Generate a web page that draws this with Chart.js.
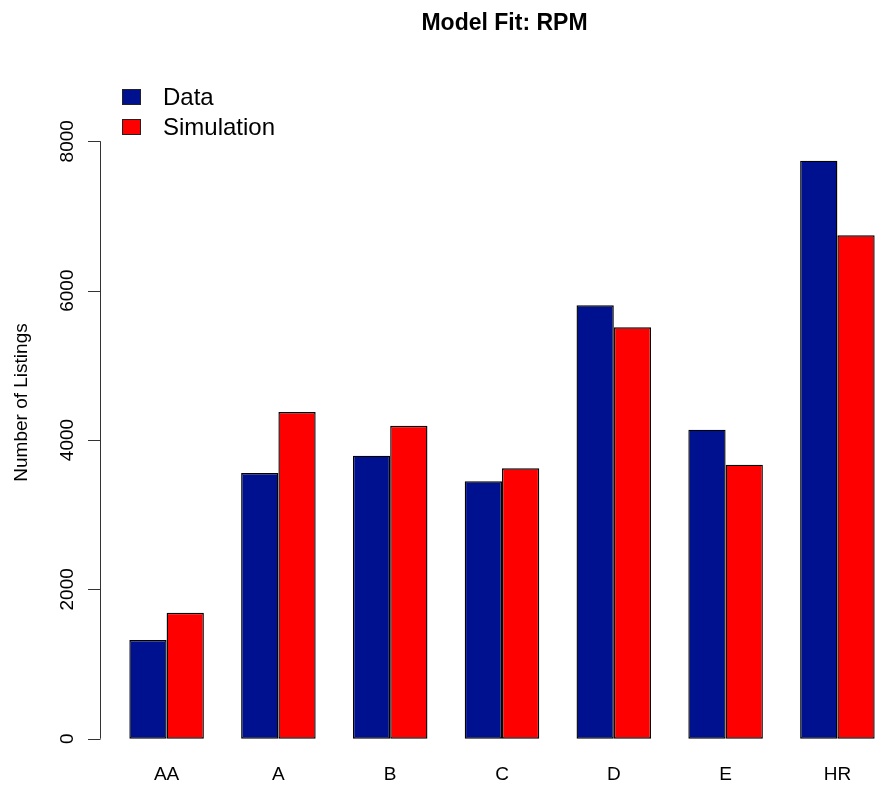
<!DOCTYPE html>
<html>
<head>
<meta charset="utf-8">
<script src="https://cdn.jsdelivr.net/npm/chart.js@4/dist/chart.umd.min.js"></script>
<style>
  html, body { margin: 0; padding: 0; background: #fff; overflow: hidden; }
  #wrap { width: 875px; height: 792px; overflow: hidden; }
  canvas { display: block; }
</style>
</head>
<body>
<div id="wrap"><canvas id="c" width="900" height="792"></canvas></div>
<script>
// Rating grades and listing counts
const grades = ['AA', 'A', 'B', 'C', 'D', 'E', 'HR'];
const dataCounts = [1322, 3558, 3790, 3447, 5804, 4138, 7740];
const simCounts  = [1687, 4375, 4191, 3621, 5509, 3669, 6741];
const yTicks = [0, 2000, 4000, 6000, 8000];

const titleText = 'Model Fit: RPM';
const yTitle = 'Number of Listings';
const seriesNames = ['Data', 'Simulation'];
const seriesColors = ['#00118F', '#FF0000'];

const FONT = '"Liberation Sans", Arial, Helvetica, sans-serif';

// Base-graphics style decorations: title, legend, left axis with rotated labels
const decorations = {
  id: 'decorations',
  afterDraw(chart) {
    const ctx = chart.ctx;
    const y = chart.scales.y;
    ctx.save();

    // title
    ctx.fillStyle = '#000';
    ctx.font = 'bold 23px ' + FONT;
    ctx.textAlign = 'center';
    ctx.textBaseline = 'alphabetic';
    ctx.fillText(titleText, 504.5, 29.5);

    // legend
    ctx.font = '24px ' + FONT;
    ctx.textAlign = 'left';
    seriesNames.forEach((name, i) => {
      const top = 89 + i * 30;
      ctx.fillStyle = seriesColors[i];
      ctx.fillRect(122.5, top + 0.5, 18, 15);
      ctx.strokeStyle = '#222';
      ctx.lineWidth = 1;
      ctx.strokeRect(122.5, top + 0.5, 18, 15);
      ctx.fillStyle = '#000';
      ctx.fillText(name, 163, top + 16);
    });

    // left axis line and tick marks
    const y0 = y.getPixelForValue(yTicks[0]);
    const y1 = y.getPixelForValue(yTicks[yTicks.length - 1]);
    ctx.strokeStyle = '#333';
    ctx.lineWidth = 1;
    ctx.beginPath();
    ctx.moveTo(100.5, y0);
    ctx.lineTo(100.5, y1);
    yTicks.forEach(v => {
      const py = Math.round(y.getPixelForValue(v)) + 0.5;
      ctx.moveTo(88, py);
      ctx.lineTo(100.5, py);
    });
    ctx.stroke();

    // rotated tick labels
    ctx.fillStyle = '#000';
    ctx.font = '19px ' + FONT;
    ctx.textAlign = 'center';
    ctx.textBaseline = 'alphabetic';
    yTicks.forEach(v => {
      ctx.save();
      ctx.translate(72.5, y.getPixelForValue(v));
      ctx.rotate(-Math.PI / 2);
      ctx.fillText(String(v), 0, 0);
      ctx.restore();
    });

    // axis title
    ctx.save();
    ctx.translate(26.5, 402.5);
    ctx.rotate(-Math.PI / 2);
    ctx.fillText(yTitle, 0, 0);
    ctx.restore();

    ctx.restore();
  }
};

new Chart(document.getElementById('c'), {
  type: 'bar',
  data: {
    labels: grades,
    datasets: [
      { label: seriesNames[0], data: dataCounts, backgroundColor: seriesColors[0] },
      { label: seriesNames[1], data: simCounts, backgroundColor: seriesColors[1] }
    ]
  },
  options: {
    responsive: false,
    animation: false,
    devicePixelRatio: 1,
    layout: { padding: { top: 111.43, left: 110.7, right: 6.7, bottom: 0 } },
    datasets: {
      bar: {
        barPercentage: 1,
        categoryPercentage: 2 / 3,
        borderColor: '#000',
        borderWidth: 1.4,
        borderSkipped: false
      }
    },
    plugins: {
      legend: { display: false },
      title: { display: false },
      tooltip: { enabled: false }
    },
    scales: {
      x: {
        grid: { display: false, drawTicks: false },
        border: { display: false },
        ticks: { color: '#000', font: { family: FONT, size: 19 }, padding: 17 },
        afterFit(scale) { scale.height = 45.83; }
      },
      y: {
        display: false,
        min: -100,
        max: 8400
      }
    }
  },
  plugins: [decorations]
});
</script>
</body>
</html>
